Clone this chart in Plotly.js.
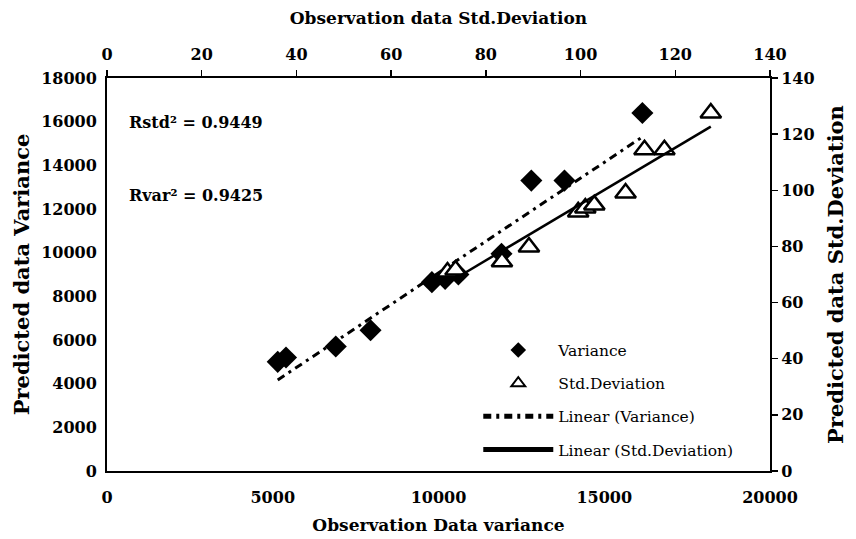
<!DOCTYPE html>
<html>
<head>
<meta charset="utf-8">
<script src="https://cdn.plot.ly/plotly-3.0.1.min.js"></script>
<style>html,body{margin:0;padding:0;background:#fff;}#chart{width:856px;height:539px;}</style>
</head>
<body>
<div id="chart"></div>
<script>
// Variance (bottom / left axes)
const obsVariance  = [5150, 5400, 6900, 7950, 9800, 10200, 10600, 11900, 12800, 13800, 16150];
const predVariance = [5000, 5200, 5700, 6450, 8650, 8800, 9000, 9950, 13300, 13300, 16400];
// Std.Deviation (top / right axes)
const obsStd  = [71.9, 73.6, 83.4, 89.1, 99.5, 101.0, 102.9, 109.5, 113.5, 117.7, 127.5];
const predStd = [70.9, 71.6, 74.5, 79.8, 92.3, 93.7, 94.8, 99.0, 114.4, 114.4, 127.5];
// Trend lines (end points)
const trendVarX = [5150, 16150];
const trendVarY = [4170, 15300];
const trendStdX = [71.9, 127.5];
const trendStdY = [66.9, 122.7];
// Tick values
const xTicks  = [0, 5000, 10000, 15000, 20000];
const yTicks  = [0, 2000, 4000, 6000, 8000, 10000, 12000, 14000, 16000, 18000];
const x2Ticks = [0, 20, 40, 60, 80, 100, 120, 140];
const y2Ticks = [0, 20, 40, 60, 80, 100, 120, 140];
const r2Labels = ['Rstd² = 0.9449', 'Rvar² = 0.9425'];

const SERIF = '"DejaVu Serif", "Liberation Serif", serif';
const tickFont = {family: SERIF, size: 16, color: '#000', weight: 'bold'};

const traces = [
  {x: obsVariance, y: predVariance, name: 'Variance', type: 'scatter', mode: 'markers',
   xaxis: 'x', yaxis: 'y', legendgroup: 'a',
   marker: {symbol: 'diamond', size: 17, color: '#000'}},
  {x: obsStd, y: predStd, name: 'Std.Deviation', type: 'scatter', mode: 'markers',
   xaxis: 'x2', yaxis: 'y2', legendgroup: 'b',
   marker: {symbol: 'triangle-up', size: 18, color: '#fff', line: {width: 2.5, color: '#000'}}},
  {x: trendVarX, y: trendVarY, name: 'Linear (Variance)', type: 'scatter', mode: 'lines',
   xaxis: 'x', yaxis: 'y', legendgroup: 'c',
   line: {color: '#000', width: 3, dash: '8px,5px,3px,5px'}},
  {x: trendStdX, y: trendStdY, name: 'Linear (Std.Deviation)', type: 'scatter', mode: 'lines',
   xaxis: 'x2', yaxis: 'y2', legendgroup: 'd',
   line: {color: '#000', width: 2.5}}
];

const axBase = {showgrid: false, zeroline: false, showline: true, linecolor: '#000', linewidth: 2,
  tickfont: tickFont, automargin: false, fixedrange: true};

const layout = {
  width: 856, height: 539,
  margin: {l: 107, r: 86, t: 78, b: 68, pad: 0},
  paper_bgcolor: '#fff', plot_bgcolor: '#fff',
  showlegend: true,
  legend: {x: 0.56, y: 0.35, xanchor: 'left', yanchor: 'top', bgcolor: 'rgba(0,0,0,0)',
    font: {family: SERIF, size: 15.5, color: '#000'}, itemwidth: 70, itemsizing: 'constant',
    traceorder: 'grouped', tracegroupgap: 10},
  xaxis: Object.assign({}, axBase, {range: [0, 20000], tickvals: xTicks, ticktext: xTicks.map(String),
    ticks: '', ticklabelstandoff: 11,
    title: {text: 'Observation Data variance', font: {family: SERIF, size: 17, color: '#000', weight: 'bold'}, standoff: 13}}),
  yaxis: Object.assign({}, axBase, {range: [0, 18000], tickvals: yTicks, ticktext: yTicks.map(String),
    ticks: '', ticklabelstandoff: 5,
    title: {text: 'Predicted data Variance', font: {family: SERIF, size: 21, color: '#000', weight: 'bold'}, standoff: 6}}),
  xaxis2: Object.assign({}, axBase, {range: [0, 140], tickvals: x2Ticks, ticktext: x2Ticks.map(String),
    overlaying: 'x', side: 'top', anchor: 'y', ticks: 'outside', ticklen: 6, tickwidth: 1.5, tickcolor: '#000',
    ticklabelstandoff: 4,
    title: {text: 'Observation data Std.Deviation', font: {family: SERIF, size: 17, color: '#000', weight: 'bold'}, standoff: 16}}),
  yaxis2: Object.assign({}, axBase, {range: [0, 140], tickvals: y2Ticks, ticktext: y2Ticks.map(String),
    overlaying: 'y', side: 'right', anchor: 'x', ticks: 'outside', ticklen: 6, tickwidth: 1.5, tickcolor: '#000',
    title: {text: 'Predicted data Std.Deviation', font: {family: SERIF, size: 21, color: '#000', weight: 'bold'}, standoff: 15}}),
  annotations: [
    {text: r2Labels[0], xref: 'paper', yref: 'paper', x: 0.03, y: 0.888, xanchor: 'left', yanchor: 'middle',
     showarrow: false, font: {family: SERIF, size: 16, color: '#000', weight: 'bold'}},
    {text: r2Labels[1], xref: 'paper', yref: 'paper', x: 0.03, y: 0.702, xanchor: 'left', yanchor: 'middle',
     showarrow: false, font: {family: SERIF, size: 16, color: '#000', weight: 'bold'}}
  ]
};

Plotly.newPlot('chart', traces, layout, {displayModeBar: false, staticPlot: true});
</script>
</body>
</html>
